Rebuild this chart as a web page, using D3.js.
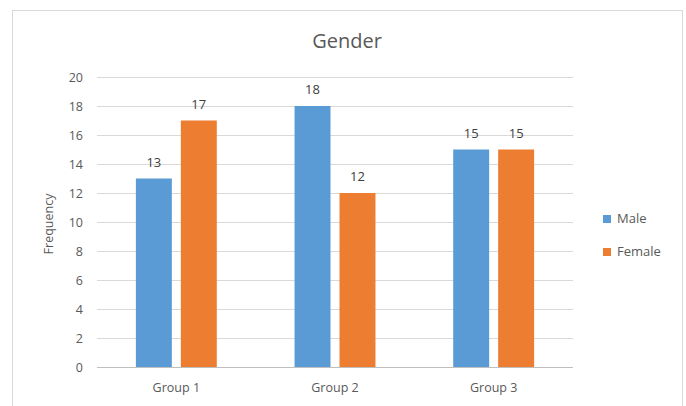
<!DOCTYPE html>
<html>
<head>
<meta charset="utf-8">
<script src="https://cdn.jsdelivr.net/npm/d3@7"></script>
<style>
  html, body { margin: 0; padding: 0; background: #fff; }
  svg { display: block; font-family: "Open Sans", "Noto Sans", sans-serif; }
</style>
</head>
<body>
<svg id="chart" width="686" height="406"></svg>
<script>
// Frequencies by group and gender
const groups = ["Group 1", "Group 2", "Group 3"];
const seriesNames = ["Male", "Female"];
const maleValues = [13, 18, 15];
const femaleValues = [17, 12, 15];
const yTicks = [0, 2, 4, 6, 8, 10, 12, 14, 16, 18, 20];
const colors = ["#5B9BD5", "#ED7D31"];

const seriesValues = [maleValues, femaleValues];
const rows = groups.map((g, i) => ({
  group: g,
  values: seriesNames.map((s, j) => ({ series: s, value: seriesValues[j][i], color: colors[j] }))
}));

const svg = d3.select("#chart");
const textColor = "#595959";
const gridColor = "#D9D9D9";

// chart frame
svg.append("rect")
  .attr("x", 12.5).attr("y", 10.5)
  .attr("width", 670).attr("height", 410)
  .attr("fill", "#fff").attr("stroke", gridColor).attr("stroke-width", 1);

const plot = { left: 97, right: 573, top: 77, bottom: 367 };

const y = d3.scaleLinear().domain([0, 20]).range([plot.bottom, plot.top]);
const x0 = d3.scaleBand().domain(groups).range([plot.left, plot.right])
  .paddingInner(0.49).paddingOuter(0.245);
const x1 = d3.scaleBand().domain(seriesNames).range([0, x0.bandwidth()]).paddingInner(0.2);

// gridlines and y tick labels
const yAxis = d3.axisLeft(y).tickValues(yTicks)
  .tickSize(-(plot.right - plot.left)).tickPadding(14);
const yg = svg.append("g").attr("transform", `translate(${plot.left},0)`).call(yAxis);
yg.select(".domain").remove();
yg.selectAll(".tick line").attr("stroke", gridColor).attr("stroke-width", 1);
yg.selectAll(".tick text").attr("fill", textColor).attr("font-size", 12.5)
  .attr("font-family", "'Open Sans', sans-serif");

// bottom axis
const xAxis = d3.axisBottom(x0).tickSize(0).tickPadding(16);
const xg = svg.append("g").attr("transform", `translate(0,${plot.bottom})`).call(xAxis);
xg.select(".domain").attr("stroke", "#BFBFBF").attr("d", `M${plot.left},0.5H${plot.right}`);
xg.selectAll(".tick text").attr("fill", textColor).attr("font-size", 12.5)
  .attr("font-family", "'Open Sans', sans-serif");

// bars
const gGroups = svg.append("g").selectAll("g").data(rows).join("g")
  .attr("transform", d => `translate(${x0(d.group)},0)`);

gGroups.selectAll("rect").data(d => d.values).join("rect")
  .attr("x", d => x1(d.series))
  .attr("y", d => y(d.value))
  .attr("width", x1.bandwidth())
  .attr("height", d => y(0) - y(d.value))
  .attr("fill", d => d.color);

// value labels
gGroups.selectAll("text.val").data(d => d.values).join("text")
  .attr("class", "val")
  .attr("x", d => x1(d.series) + x1.bandwidth() / 2)
  .attr("y", d => y(d.value) - 12)
  .attr("text-anchor", "middle")
  .attr("fill", "#404040")
  .attr("font-size", 13)
  .text(d => d.value);

// title
svg.append("text")
  .attr("x", 347).attr("y", 48)
  .attr("text-anchor", "middle")
  .attr("fill", textColor)
  .attr("font-size", 20)
  .text("Gender");

// y axis title
svg.append("text")
  .attr("transform", `translate(53,${(plot.top + plot.bottom) / 2 + 2}) rotate(-90)`)
  .attr("text-anchor", "middle")
  .attr("fill", textColor)
  .attr("font-size", 12.5)
  .text("Frequency");

// legend
const legend = svg.append("g").selectAll("g").data(seriesNames).join("g")
  .attr("transform", (d, i) => `translate(603,${215 + i * 33})`);
legend.append("rect").attr("width", 8).attr("height", 8)
  .attr("fill", (d, i) => colors[i]);
legend.append("text").attr("x", 14).attr("y", 8)
  .attr("fill", textColor).attr("font-size", 13)
  .text(d => d);
</script>
</body>
</html>
